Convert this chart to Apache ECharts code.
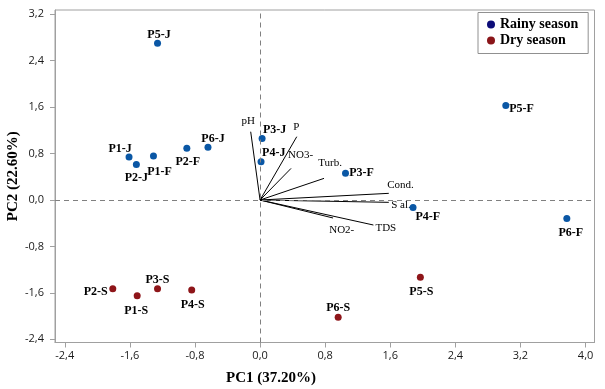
<!DOCTYPE html>
<html>
<head>
<meta charset="utf-8">
<script src="https://cdn.jsdelivr.net/npm/echarts@6/dist/echarts.min.js"></script>
<style>html,body{margin:0;padding:0;background:#fff}#c{width:605px;height:389px}</style>
</head>
<body>
<div id="c"></div>
<script>
// ---- data ----
const xTicks = [-2.4, -1.6, -0.8, 0.0, 0.8, 1.6, 2.4, 3.2, 4.0];
const yTicks = [-2.4, -1.6, -0.8, 0.0, 0.8, 1.6, 2.4, 3.2];

const rainyNames = ['P5-J','P1-J','P2-J','P1-F','P2-F','P6-J','P3-J','P4-J','P3-F','P4-F','P5-F','P6-F'];
const rainyPC1   = [-1.26, -1.61, -1.52, -1.31, -0.90, -0.64, 0.025, 0.012, 1.05, 1.88, 3.02, 3.77];
const rainyPC2   = [ 2.70,  0.74,  0.61,  0.76,  0.89,  0.91, 1.06, 0.66, 0.46, -0.13, 1.63, -0.32];

const dryNames = ['P2-S','P1-S','P3-S','P4-S','P5-S','P6-S'];
const dryPC1   = [-1.81, -1.51, -1.26, -0.84, 1.97, 0.96];
const dryPC2   = [-1.53, -1.65, -1.53, -1.55, -1.33, -2.02];

const loadNames = ['pH','P','NO3-','Turb.','Cond.','S al.','TDS','NO2-'];
const loadPC1   = [-0.115, 0.451, 0.381, 0.786, 1.582, 1.582, 1.393, 0.897];
const loadPC2   = [ 1.177, 1.091, 0.545, 0.373, 0.115, -0.04, -0.431, -0.31];

// ---- label placement (style) ----
const labelOffset = {
  'P5-J':[1.5,-8], 'P1-J':[-9,-8.5], 'P2-J':[0,13.5], 'P1-F':[6,15.5], 'P2-F':[1,14],
  'P6-J':[5,-8], 'P3-J':[12.5,-9], 'P4-J':[12.7,-8.5], 'P3-F':[16,0], 'P4-F':[14.7,9],
  'P5-F':[15.7,3], 'P6-F':[4,14.5],
  'P2-S':[-17,3.5], 'P1-S':[-1,15], 'P3-S':[0,-9], 'P4-S':[1,14.5], 'P5-S':[1,14.5], 'P6-S':[0,-9],
  'pH':[-2.4,-10.5], 'P':[-0.4,-10], 'NO3-':[9.5,-13.5], 'Turb.':[6,-15], 'Cond.':[11.7,-8.3],
  'S al.':[12.2,2.5], 'TDS':[12.4,2.7], 'NO2-':[8.7,12.2]
};

const SERIF = 'Liberation Serif';
const fmt = v => v.toFixed(1).replace('.', ',');

function pointData(names, xs, ys, fontSize, bold) {
  return names.map((n, i) => ({
    name: n,
    value: [xs[i], ys[i]],
    label: {
      show: true, position: 'inside', offset: labelOffset[n], formatter: n,
      fontFamily: SERIF, fontSize: fontSize, fontWeight: bold ? 'bold' : 'normal', color: '#000'
    }
  }));
}

const vectorSeries = loadNames.map((n, i) => ({
  type: 'line', name: 'vec_' + n, silent: true, symbol: 'none', z: 1,
  lineStyle: { color: '#000', width: 1 },
  data: [[0, 0], [loadPC1[i], loadPC2[i]]]
}));

const option = {
  animation: false,
  backgroundColor: '#fff',
  grid: { left: 55, right: 10.5, top: 10, bottom: 46.5, show: true, borderColor: '#a0a0a0', borderWidth: 1,
          containLabel: false, outerBoundsMode: 'none' },
  title: [{
    text: 'PC1 (37.20%)', left: 226, top: 371, padding: 0,
    textStyle: { fontFamily: SERIF, fontSize: 15, fontWeight: 'bold', color: '#000' }
  }],
  legend: {
    orient: 'vertical', left: 478, top: 12.5, padding: [4, 10, 5, 9], itemGap: 0,
    borderColor: '#909090', borderWidth: 1, icon: 'circle', itemWidth: 8, itemHeight: 8,
    textStyle: { fontFamily: SERIF, fontSize: 14, fontWeight: 'bold', color: '#000', lineHeight: 16 },
    data: [
      { name: 'Rainy season', itemStyle: { color: '#0c0c78', opacity: 1 } },
      { name: 'Dry season', itemStyle: { color: '#8a1519', opacity: 1 } }
    ]
  },
  xAxis: {
    type: 'value', min: -2.52, max: 4.11,
    axisLine: { show: true, onZero: false, lineStyle: { color: '#a0a0a0' } },
    axisTick: { show: true, length: 5, customValues: xTicks, lineStyle: { color: '#a0a0a0' } },
    axisLabel: { customValues: xTicks, formatter: fmt, margin: 8, fontFamily: 'Open Sans', fontSize: 11, color: '#1a1a1a' },
    splitLine: { show: false }
  },
  yAxis: {
    type: 'value', min: -2.455, max: 3.274,
    name: 'PC2 (22.60%)', nameLocation: 'middle', nameRotate: 90, nameGap: 34, nameMoveOverlap: false,
    nameTextStyle: { fontFamily: SERIF, fontSize: 15, fontWeight: 'bold', color: '#000' },
    axisLine: { show: true, onZero: false, lineStyle: { color: '#a0a0a0' } },
    axisTick: { show: true, length: 5, customValues: yTicks, lineStyle: { color: '#a0a0a0' } },
    axisLabel: { customValues: yTicks, formatter: fmt, margin: 11, fontFamily: 'Open Sans', fontSize: 11, color: '#1a1a1a' },
    splitLine: { show: false }
  },
  series: [
    {
      type: 'scatter', name: 'zero', silent: true, symbolSize: 0, data: [],
      markLine: {
        silent: true, symbol: 'none', animation: false,
        lineStyle: { color: '#808080', type: [5, 4], width: 1 },
        label: { show: false },
        data: [{ xAxis: 0 }, { yAxis: 0 }]
      }
    },
    ...vectorSeries,
    {
      type: 'scatter', name: 'loadings', silent: true, symbolSize: 1, z: 3,
      itemStyle: { color: 'rgba(0,0,0,0)', opacity: 1 },
      data: pointData(loadNames, loadPC1, loadPC2, 11, false)
    },
    {
      type: 'scatter', name: 'Rainy season', symbolSize: 7, z: 4,
      itemStyle: { color: '#0a57a5', opacity: 1 },
      data: pointData(rainyNames, rainyPC1, rainyPC2, 12, true)
    },
    {
      type: 'scatter', name: 'Dry season', symbolSize: 7, z: 4,
      itemStyle: { color: '#8e1519', opacity: 1 },
      data: pointData(dryNames, dryPC1, dryPC2, 12, true)
    }
  ]
};

const chart = echarts.init(document.getElementById('c'), null, { renderer: 'canvas' });
chart.setOption(option);
</script>
</body>
</html>
